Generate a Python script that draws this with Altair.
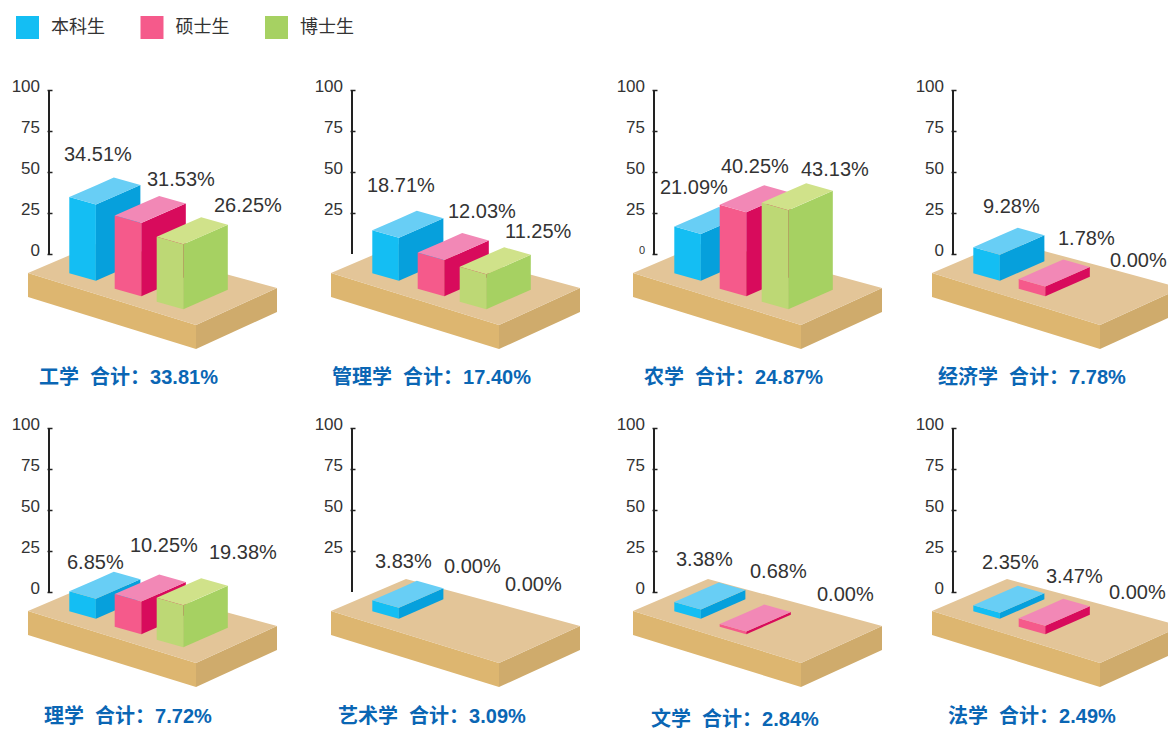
import altair as alt
import pandas as pd

SERIES = ["本科生", "硕士生", "博士生"]
FIELDS = ["工学", "管理学", "农学", "经济学", "理学", "艺术学", "文学", "法学"]
TOTALS = [33.81, 17.40, 24.87, 7.78, 7.72, 3.09, 2.84, 2.49]
SHARES = [
    [34.51, 31.53, 26.25], [18.71, 12.03, 11.25], [21.09, 40.25, 43.13], [9.28, 1.78, 0.00],
    [6.85, 10.25, 19.38], [3.83, 0.00, 0.00], [3.38, 0.68, 0.00], [2.35, 3.47, 0.00],
]
# drawn height of each block, read against the panel's axis
BLOCK_HEIGHTS = [
    [46.5, 44.7, 39.6], [26.2, 22.0, 21.3], [28.5, 51.2, 60.4], [15.9, 5.9, 0.0],
    [12.2, 19.9, 25.6], [6.7, 0.0, 0.0], [5.7, 1.6, 0.0], [3.7, 5.1, 0.0],
]
AXIS_TICKS = [[0, 25, 50, 75, 100], [25, 50, 75, 100], [0, 25, 50, 75, 100], [0, 25, 50, 75, 100],
              [0, 25, 50, 75, 100], [25, 50, 75, 100], [0, 25, 50, 75, 100], [0, 25, 50, 75, 100]]

# ---- layout, in pixels relative to each panel's axis foot
PX = 1.64
LEFT_PAD = [33, 24, 24, 24]
PANEL_W = [312, 302, 299, 239]
ROW_H = [334, 331]
ZERO_FROM_TOP = 196
LABEL_POS = [
    [(15, -100), (98, -75), (165, -49)], [(15, -69), (96, -43), (153, -23)],
    [(6, -67), (67, -88), (147, -85)], [(30, -48), (105, -16), (157, 6)],
    [(18, -30), (81, -47), (160, -40)], [(23, -31), (92, -26), (153, -8)],
    [(22, -33), (96, -21), (163, 2)], [(29, -30), (93, -16), (156, 0)],
]
TITLE_POS = [(-10, 122), (-20, 122), (-10, 122), (-15, 122), (-5, 123), (-14, 123), (-3, 126), (-5, 123)]
BLOCK_FOOT = [(20.3, 19.3), (65.7, 34.7), (107.7, 47.7)]
BLOCK_W = (26.6, 7.5)
BLOCK_D = (44.5, -19.5)
SLAB_TOP = [(-21, 19), (147, 71), (228, 34), (54, -13)]
SLAB_THICK = 24

FONT = "Liberation Sans, Noto Sans CJK SC"
TEXT = "#333333"
SLAB_COL = dict(top="#E3C598", front="#DDB670", side="#CFAB6C")
BLOCK_COL = [
    dict(top="#68CEF5", front="#14BEF3", side="#06A0DC"),
    dict(top="#F288B6", front="#F55A8B", side="#D80B5C"),
    dict(top="#D0E28A", front="#BDD875", side="#A6D162"),
]
LEGEND_COL = ["#14BEF3", "#F55A8B", "#A6D162"]


def outline(points):
    """Turn a convex outline (pixels from axis foot) into x / upper / lower rows."""
    rows = []
    n = len(points)
    for x in sorted({p[0] for p in points}):
        ys = []
        for i in range(n):
            (x0, y0), (x1, y1) = points[i], points[(i + 1) % n]
            if min(x0, x1) <= x <= max(x0, x1):
                if x0 == x1:
                    ys += [y0, y1]
                else:
                    ys.append(y0 + (y1 - y0) * (x - x0) / (x1 - x0))
        rows.append(dict(x=x, y=-min(ys) / PX, y2=-max(ys) / PX))
    return pd.DataFrame(rows)


def panel(i, col_no, row_no):
    width, height, pad = PANEL_W[col_no], ROW_H[row_no], LEFT_PAD[col_no]
    xs = alt.Scale(domain=[-pad, width - pad], nice=False, zero=False)
    ys = alt.Scale(domain=[-(height - ZERO_FROM_TOP) / PX, ZERO_FROM_TOP / PX], nice=False, zero=False)
    X = alt.X("x:Q", scale=xs, axis=None)
    Y = alt.Y("y:Q", scale=ys, axis=None, stack=None)
    Y2 = alt.Y2("y2:Q")

    def face(points, color):
        return alt.Chart(outline(points)).mark_area(clip=True, orient="vertical", interpolate="linear").encode(
            x=X, y=Y, y2=Y2, color=color)

    layers = []
    L, F, R, B = SLAB_TOP
    down = lambda p: (p[0], p[1] + SLAB_THICK)
    layers.append(face([L, F, down(F), down(L)], alt.value(SLAB_COL["front"])))
    layers.append(face([F, R, down(R), down(F)], alt.value(SLAB_COL["side"])))
    layers.append(face(SLAB_TOP, alt.value(SLAB_COL["top"])))

    for s, h in enumerate(BLOCK_HEIGHTS[i]):
        if h <= 0:
            continue
        fl = BLOCK_FOOT[s]
        f = (fl[0] + BLOCK_W[0], fl[1] + BLOCK_W[1])
        r = (f[0] + BLOCK_D[0], f[1] + BLOCK_D[1])
        b = (fl[0] + BLOCK_D[0], fl[1] + BLOCK_D[1])
        up = lambda p: (p[0], p[1] - h * PX)
        legend_face = "side" if s == 2 else "front"

        def col(name):
            if i == 0 and name == legend_face:
                return alt.Color("series:N", scale=alt.Scale(domain=SERIES, range=LEGEND_COL), legend=alt.Legend(
                    title=None, orient="top", direction="horizontal", symbolType="square", symbolSize=529,
                    symbolStrokeWidth=0, labelFont=FONT, labelFontSize=18, labelColor=TEXT, labelOffset=12,
                    columnPadding=35.5, symbolOpacity=1, offset=19))
            return alt.value(BLOCK_COL[s][name])

        for name, pts in (("front", [fl, f, up(f), up(fl)]), ("side", [f, r, up(r), up(f)]),
                          ("top", [up(fl), up(f), up(r), up(b)])):
            c = face(pts, col(name))
            if i == 0 and name == legend_face:
                c = c.transform_calculate(series=f"'{SERIES[s]}'")
            layers.append(c)

    rule = alt.Chart(pd.DataFrame(dict(x=[0], y=[0], y2=[100]))).mark_rule(color="#222222", strokeWidth=2).encode(
        x=X,
        y=alt.Y("y:Q", scale=ys, axis=alt.Axis(
            values=AXIS_TICKS[i], title=None, domain=False, grid=False, offset=-(pad + 3), tickSize=5,
            tickWidth=1.5, tickColor="#222222", labelFont=FONT, labelColor=TEXT, labelPadding=7.5, labelOffset=-4,
            labelFontSize=alt.expr("datum.value === 0 ? 11 : 17") if i == 2 else 17)),
        y2=Y2)
    layers.append(rule)

    labels = pd.DataFrame(dict(
        x=[p[0] for p in LABEL_POS[i]], y=[-p[1] / PX for p in LABEL_POS[i]],
        t=[f"{v:.2f}%" for v in SHARES[i]]))
    layers.append(alt.Chart(labels).mark_text(align="left", baseline="middle", dy=1, font=FONT, fontSize=20,
                                              color=TEXT).encode(
        x=X, y=alt.Y("y:Q", scale=ys, axis=None), text="t:N"))

    title = pd.DataFrame(dict(x=[TITLE_POS[i][0]], y=[-TITLE_POS[i][1] / PX],
                              t=[f"{FIELDS[i]}\u00a0\u00a0合计：{TOTALS[i]:.2f}%"]))
    layers.append(alt.Chart(title).mark_text(align="left", baseline="middle", dy=2, font=FONT, fontSize=20,
                                             fontWeight="bold", color="#0A66B4").encode(
        x=X, y=alt.Y("y:Q", scale=ys, axis=None), text="t:N"))

    return alt.layer(*layers).resolve_axis(y="independent").properties(width=width, height=height)


rows = [alt.hconcat(*[panel(r * 4 + c, c, r) for c in range(4)], spacing=0, bounds="flush") for r in range(2)]
chart = alt.vconcat(*rows, spacing=4).properties(
    padding=dict(left=3, top=8, right=0, bottom=0)
).configure_view(strokeWidth=0)

chart.save("out.html", embed_options={"renderer": "svg", "actions": False})
